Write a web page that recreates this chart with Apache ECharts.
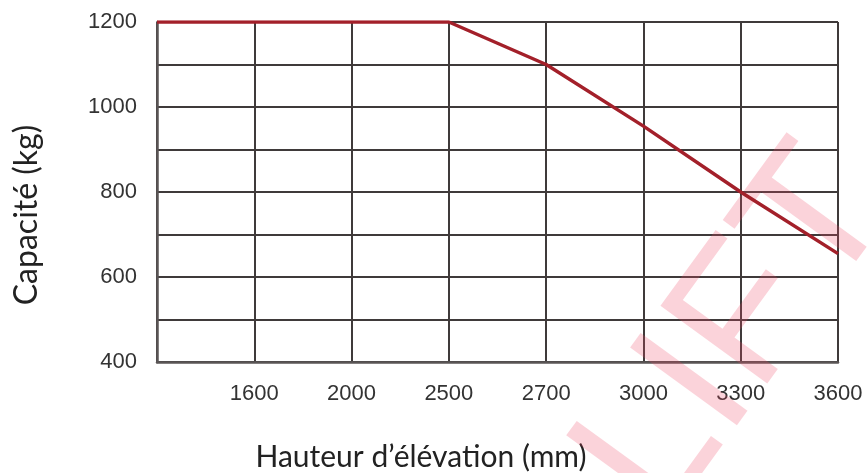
<!DOCTYPE html>
<html>
<head>
<meta charset="utf-8">
<script src="https://cdn.jsdelivr.net/npm/echarts@6/dist/echarts.min.js"></script>
<style>
  html, body { margin: 0; padding: 0; background: #fff; }
  #chart { width: 868px; height: 473px; }
</style>
</head>
<body>
<div id="chart"></div>
<script>
// hauteur d'élévation (mm) - first slot is the left edge of the grid, no label
var hauteurs = ["", "1600", "2000", "2500", "2700", "3000", "3300", "3600"];
// capacité (kg)
var capacites = [1200, 1200, 1200, 1200, 1100, 955, 800, 655];
var yMin = 400;
var yMax = 1200;
var yLabelStep = 200;

var titreX = "Hauteur d\u2019élévation (mm)";
var titreY = "Capacité (kg)";
var filigrane = "LIFT";

var chart = echarts.init(document.getElementById("chart"), null, {
  renderer: "canvas",
});

var gridColor = "#3f3a3a";
var labelFont = "'Liberation Sans', sans-serif";
var titleFont = "Lato, 'Open Sans', sans-serif";

var option = {
  animation: false,
  backgroundColor: "#fff",
  grid: {
    left: 157,
    right: 30,
    top: 22,
    bottom: 111,
  },
  xAxis: {
    type: "category",
    data: hauteurs,
    boundaryGap: false,
    axisLine: { show: true, lineStyle: { color: "#5a5555", width: 2.5 } },
    axisTick: { show: false },
    axisLabel: {
      color: "#333",
      fontFamily: labelFont,
      fontSize: 22,
      margin: 21,
      interval: 0,
    },
    splitLine: { show: true, lineStyle: { color: gridColor, width: 2 } },
  },
  yAxis: {
    type: "value",
    min: yMin,
    max: yMax,
    interval: 100,
    axisLine: { show: true, lineStyle: { color: "#5a5555", width: 2.5 } },
    axisTick: { show: false },
    axisLabel: {
      color: "#333",
      fontFamily: labelFont,
      fontSize: 22,
      margin: 20,
      formatter: function (v) {
        return v % yLabelStep === 0 ? String(v) : "";
      },
    },
    splitLine: { show: true, lineStyle: { color: gridColor, width: 2 } },
  },
  graphic: [
    {
      // watermark
      type: "text",
      x: 737,
      y: 335,
      rotation: (54 * Math.PI) / 180,
      z: 1,
      silent: true,
      style: {
        text: filigrane,
        fontFamily: "'Liberation Sans', sans-serif",
        fontSize: 192,
        fill: "rgba(238, 70, 100, 0.24)",
        align: "center",
        verticalAlign: "middle",
      },
    },
    {
      type: "text",
      x: 421,
      y: 457,
      style: {
        text: titreX,
        fontFamily: titleFont,
        fontSize: 30,
        fill: "#222",
        align: "center",
        verticalAlign: "middle",
      },
    },
    {
      type: "text",
      x: 27,
      y: 215,
      rotation: Math.PI / 2,
      style: {
        text: titreY,
        fontFamily: titleFont,
        fontSize: 32,
        fill: "#222",
        align: "center",
        verticalAlign: "middle",
      },
    },
  ],
  series: [
    {
      name: "Capacité",
      type: "line",
      data: capacites,
      symbol: "none",
      z: 5,
      lineStyle: { color: "#a3202a", width: 3.5 },
    },
  ],
};

chart.setOption(option);
</script>
</body>
</html>
